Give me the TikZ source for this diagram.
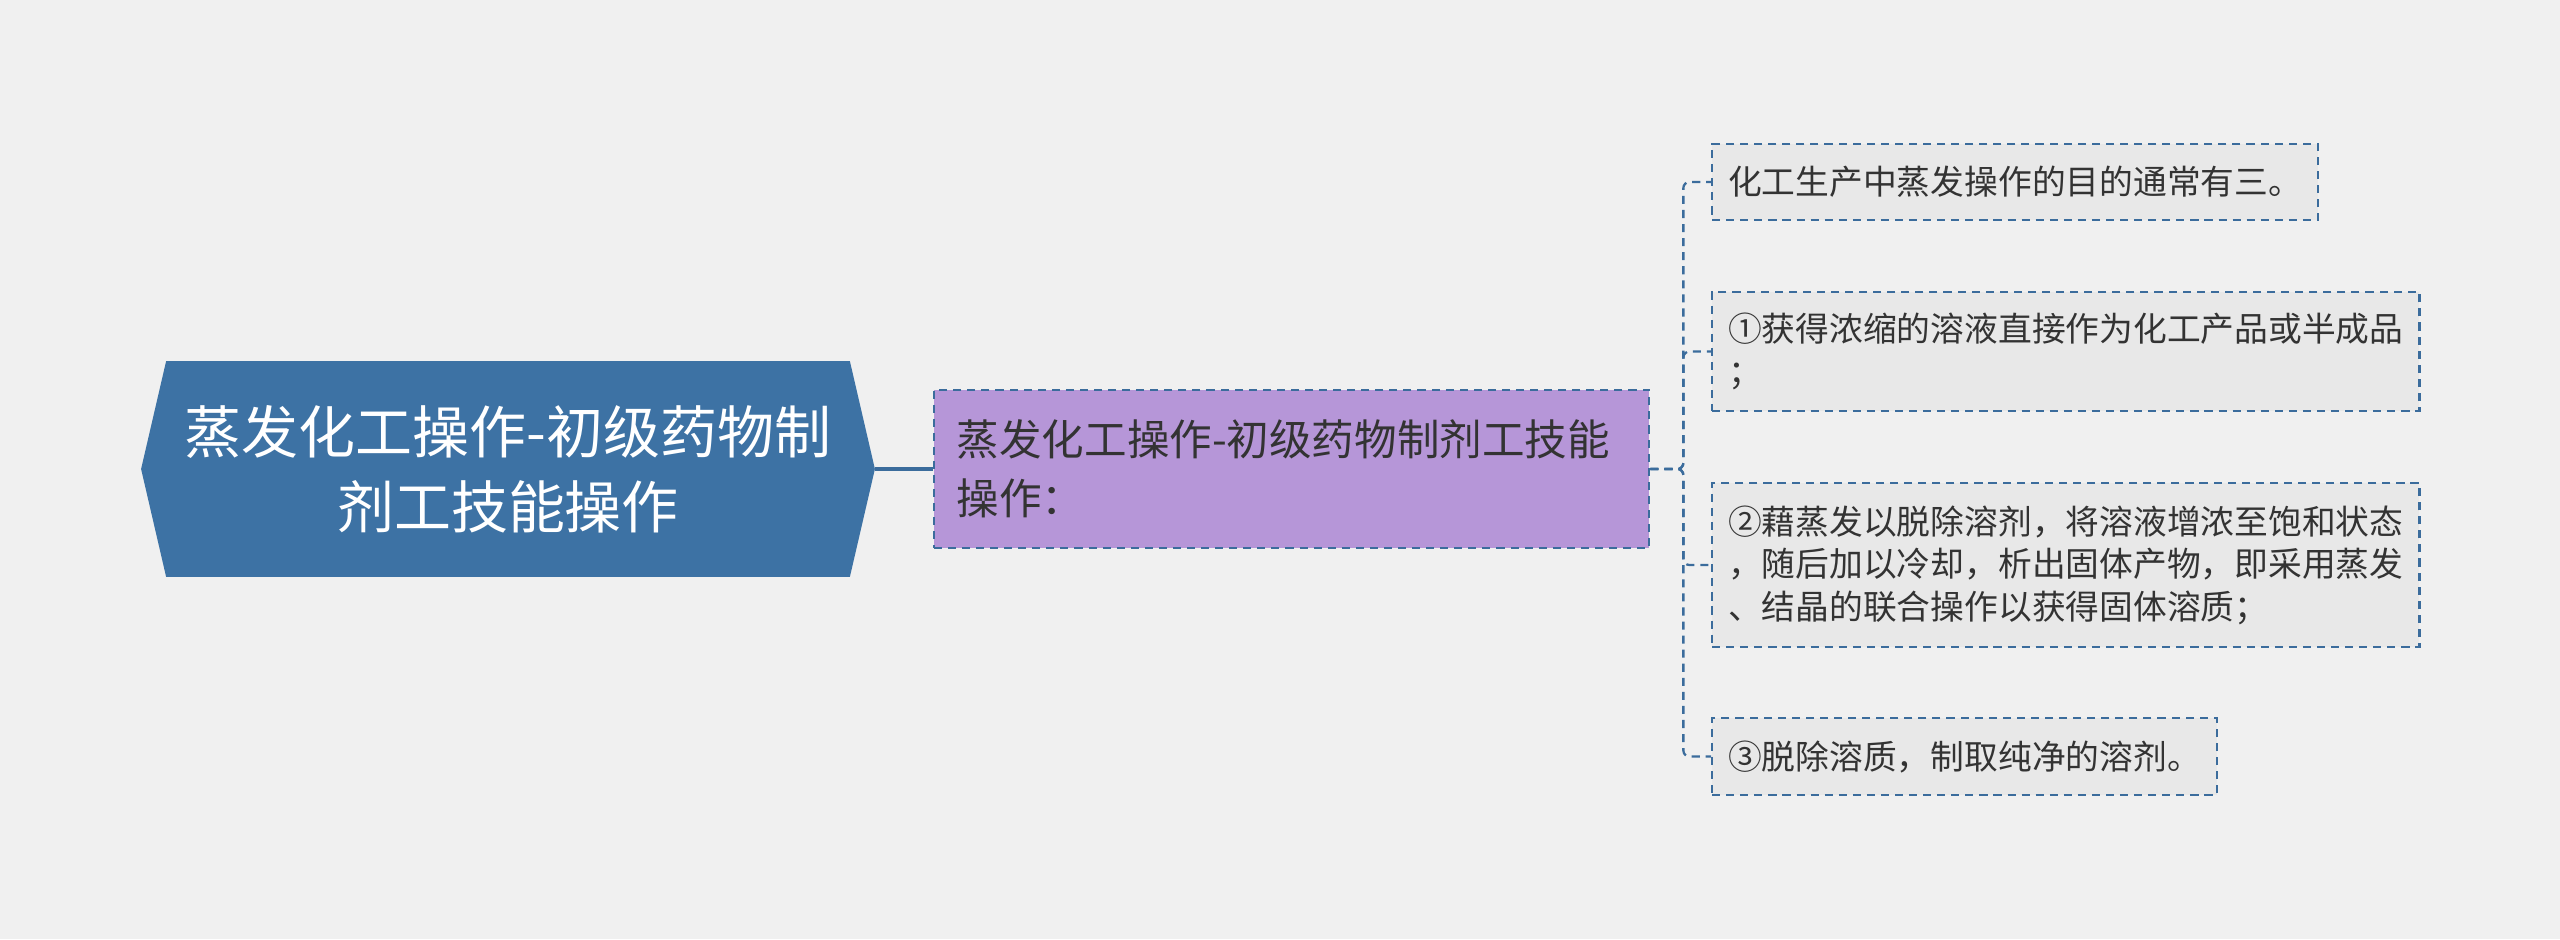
\documentclass[tikz,border=0pt]{standalone}
\usepackage{fontspec}
\setmainfont{Noto Sans CJK SC}
\usepackage{tikz}
\usetikzlibrary{calc,positioning,backgrounds}
\definecolor{paper}{HTML}{F0F0F0}
\definecolor{steel}{HTML}{3D72A4}
\definecolor{lilac}{HTML}{B696D8}
\definecolor{edge}{HTML}{3B6C9C}
\definecolor{leaffill}{HTML}{E8E8E8}
\definecolor{ink}{HTML}{333333}
\tikzset{
  rootnode/.style={text=white,font=\fontsize{16.2}{21.3}\selectfont,align=center,minimum width=6.82cm,minimum height=2.14cm,inner sep=0pt},
  topicnode/.style={fill=lilac,draw=edge,line width=.65pt,dash pattern=on 2.3pt off 1.7pt,text=ink,font=\fontsize{12.1}{16.8}\selectfont,align=left,text width=6.69cm,inner xsep=.23cm,minimum height=1.58cm},
  leafnode/.style={fill=leaffill,draw=edge,line width=.65pt,dash pattern=on 2.3pt off 1.7pt,text=ink,font=\fontsize{9.6}{12.1}\selectfont,align=left,anchor=west,inner xsep=.16cm,inner ysep=0pt},
  trunk/.style={draw=edge,line width=1.1pt},
  branch/.style={draw=edge,line width=.65pt,dash pattern=on 2.3pt off 1.7pt,rounded corners=.06cm}
}
\begin{document}
\begin{tikzpicture}[x=0.01cm,y=-0.01cm]
  \node[rootnode] (root) at (508,469) {蒸发化工操作-初级药物制\\剂工技能操作};
  \node[topicnode] (topic) at (1291.5,469) {蒸发化工操作-初级药物制剂工技能\\操作：};
  % leaves
  \node[leafnode,minimum height=.76cm] (leaf1) at (1711,182) {化工生产中蒸发操作的目的通常有三。};
  \node[leafnode,minimum height=1.19cm] (leaf2) at (1711,351.5) {①获得浓缩的溶液直接作为化工产品或半成品\\；};
  \node[leafnode,minimum height=1.64cm] (leaf3) at (1711,565) {②藉蒸发以脱除溶剂，将溶液增浓至饱和状态\\，随后加以冷却，析出固体产物，即采用蒸发\\、结晶的联合操作以获得固体溶质；};
  \node[leafnode,minimum height=.77cm] (leaf4) at (1711,756.5) {③脱除溶质，制取纯净的溶剂。};
  \coordinate (tip) at ($(root.east)+(25,0)$);
  \coordinate (fork) at ($(topic.east)+(33,0)$);
  \draw[trunk] (tip) -- (topic.west);
  \foreach \n in {1,...,4}
    \draw[branch] (topic.east) -- (fork) |- (leaf\n.west);
  \begin{scope}[on background layer]
    \fill[paper] (0,0) rectangle (2560,939);
    \fill[steel] (root.north west) -- (root.north east) -- (tip) -- (root.south east)
      -- (root.south west) -- ($(root.west)+(-25,0)$) -- cycle;
  \end{scope}
\end{tikzpicture}
\end{document}
